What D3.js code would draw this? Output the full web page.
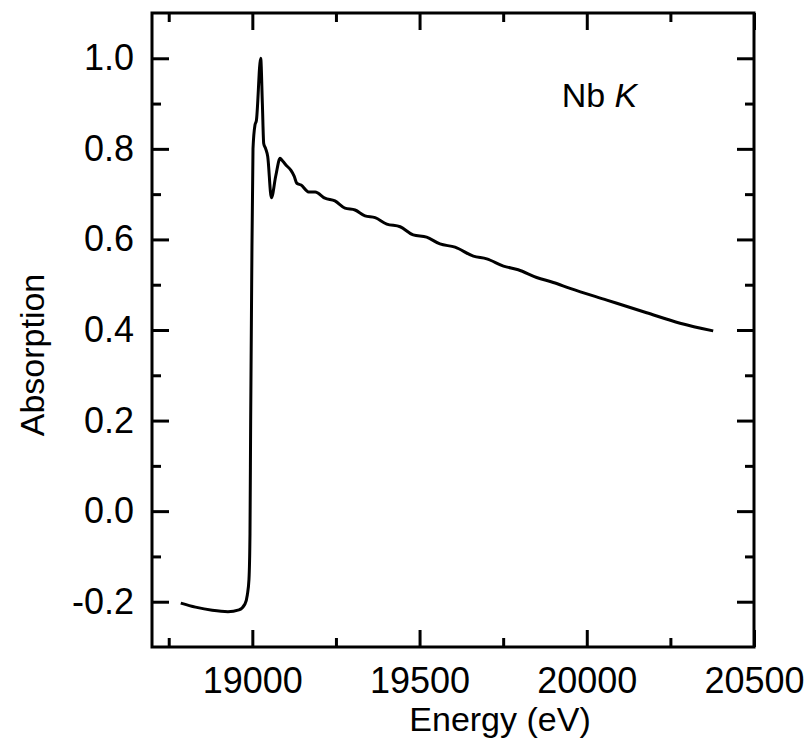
<!DOCTYPE html>
<html>
<head>
<meta charset="utf-8">
<script src="https://cdn.jsdelivr.net/npm/d3@7"></script>
<style>
  body { margin: 0; background: #fff; }
  svg text { font-family: "Liberation Sans", Arial, sans-serif; fill: #000; }
</style>
</head>
<body>
<div id="chart"></div>
<script>
// Nb K-edge absorption spectrum
var energy = [18786, 18830, 18880, 18927, 18960, 18978, 18985, 18990, 18993, 18995, 18998,
  19002, 19008, 19012, 19025, 19030, 19034, 19040, 19046, 19057, 19070, 19083, 19092,
  19101, 19115, 19125, 19133, 19146, 19168, 19188, 19217, 19247, 19277, 19307, 19337,
  19367, 19402, 19442, 19481, 19521, 19561, 19606, 19661, 19701, 19751, 19795, 19850,
  19900, 19950, 20060, 20179, 20279, 20378];
var absorption = [-0.203, -0.212, -0.219, -0.222, -0.218, -0.205, -0.185, -0.15, -0.05, 0.2, 0.5,
  0.8, 0.853, 0.862, 1.0, 0.9, 0.812, 0.8, 0.783, 0.692, 0.74, 0.779, 0.772,
  0.764, 0.753, 0.74, 0.724, 0.72, 0.705, 0.705, 0.691, 0.685, 0.669, 0.665, 0.652,
  0.648, 0.634, 0.628, 0.61, 0.605, 0.59, 0.583, 0.563, 0.557, 0.541, 0.533, 0.516,
  0.505, 0.492, 0.466, 0.438, 0.415, 0.398];

var x_major_ticks = [19000, 19500, 20000, 20500];
var x_minor_ticks = [18750, 19250, 19750, 20250];
var y_major_ticks = [-0.2, 0.0, 0.2, 0.4, 0.6, 0.8, 1.0];
var y_minor_ticks = [-0.1, 0.1, 0.3, 0.5, 0.7, 0.9];
var x_title = "Energy (eV)";
var y_title = "Absorption";

var width_chart = 808;
var height_chart = 751;
var margin = {top: 13, right: 54, bottom: 104, left: 152};
var plot_w = width_chart - margin.left - margin.right;
var plot_h = height_chart - margin.top - margin.bottom;

var x = d3.scaleLinear().domain([18700, 20500]).range([0, plot_w]);
var y = d3.scaleLinear().domain([-0.3, 1.1]).range([plot_h, 0]);

var svg = d3.select("#chart").append("svg")
  .attr("width", width_chart)
  .attr("height", height_chart);

var g = svg.append("g")
  .attr("transform", "translate(" + margin.left + "," + margin.top + ")");

var major_len = 17, minor_len = 9, tick_font = "36px";

function style_axis (sel) {
  sel.select(".domain").remove();
  sel.selectAll("line").attr("stroke", "#000").attr("stroke-width", 3);
  sel.selectAll("text").style("font-size", tick_font).attr("fill", "#000");
}

// bottom
g.append("g").attr("transform", "translate(0," + plot_h + ")")
  .call(d3.axisBottom(x).tickValues(x_major_ticks).tickSizeInner(-major_len).tickSizeOuter(0)
    .tickPadding(20).tickFormat(d3.format("d")))
  .call(style_axis);
g.append("g").attr("transform", "translate(0," + plot_h + ")")
  .call(d3.axisBottom(x).tickValues(x_minor_ticks).tickSizeInner(-minor_len).tickSizeOuter(0).tickFormat(""))
  .call(style_axis);
// top
g.append("g")
  .call(d3.axisTop(x).tickValues(x_major_ticks).tickSizeInner(-major_len).tickSizeOuter(0).tickFormat(""))
  .call(style_axis);
g.append("g")
  .call(d3.axisTop(x).tickValues(x_minor_ticks).tickSizeInner(-minor_len).tickSizeOuter(0).tickFormat(""))
  .call(style_axis);
// left (plain hyphen for negatives, like the original)
g.append("g")
  .call(d3.axisLeft(y).tickValues(y_major_ticks).tickSizeInner(-major_len).tickSizeOuter(0)
    .tickPadding(18).tickFormat(function (d) { return d.toFixed(1); }))
  .call(style_axis);
g.append("g")
  .call(d3.axisLeft(y).tickValues(y_minor_ticks).tickSizeInner(-minor_len).tickSizeOuter(0).tickFormat(""))
  .call(style_axis);
// right
g.append("g").attr("transform", "translate(" + plot_w + ",0)")
  .call(d3.axisRight(y).tickValues(y_major_ticks).tickSizeInner(-major_len).tickSizeOuter(0).tickFormat(""))
  .call(style_axis);
g.append("g").attr("transform", "translate(" + plot_w + ",0)")
  .call(d3.axisRight(y).tickValues(y_minor_ticks).tickSizeInner(-minor_len).tickSizeOuter(0).tickFormat(""))
  .call(style_axis);

// the frame
g.append("rect")
  .attr("width", plot_w)
  .attr("height", plot_h)
  .attr("fill", "none")
  .attr("stroke", "#000")
  .attr("stroke-width", 3);

// spectrum
var line = d3.line()
  .curve(d3.curveMonotoneX)
  .x(function (d, i) { return x(energy[i]); })
  .y(function (d) { return y(d); });

g.append("path")
  .datum(absorption)
  .attr("fill", "none")
  .attr("stroke", "#000")
  .attr("stroke-width", 3)
  .attr("stroke-linejoin", "round")
  .attr("d", line);

// label in the corner
var lab = g.append("text")
  .attr("x", x(19925))
  .attr("y", y(0.892))
  .style("font-size", "34px");
lab.append("tspan").text("Nb ");
lab.append("tspan").style("font-style", "italic").text("K");

// axis titles
svg.append("text")
  .attr("x", 500)
  .attr("y", 731)
  .attr("text-anchor", "middle")
  .style("font-size", "34px")
  .text(x_title);

svg.append("text")
  .attr("transform", "translate(44,355) rotate(-90)")
  .attr("text-anchor", "middle")
  .style("font-size", "34px")
  .text(y_title);
</script>
</body>
</html>
